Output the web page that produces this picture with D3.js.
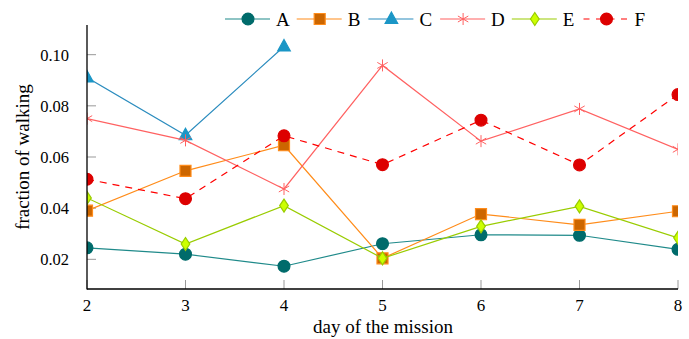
<!DOCTYPE html>
<html lang="en">
<head>
<meta charset="UTF-8">
<title>fraction of walking</title>
<script src="https://d3js.org/d3.v7.min.js"></script>
<style>
  body { margin: 0; background: #fff; }
  svg { display: block; }
</style>
</head>
<body>
<svg width="689" height="339"></svg>
<script>
// days on the x axis
const days = [2, 3, 4, 5, 6, 7, 8];
const xTicks = [2, 3, 4, 5, 6, 7, 8];
const yTicks = [0.02, 0.04, 0.06, 0.08, 0.10];

// values
const seriesA = [0.0245, 0.0220, 0.0173, 0.0261, 0.0296, 0.0294, 0.0239];
const seriesB = [0.0390, 0.0546, 0.0646, 0.0204, 0.0377, 0.0335, 0.0388];
const seriesC = [0.0911, 0.0685, 0.1032];
const seriesD = [0.0750, 0.0665, 0.0475, 0.0958, 0.0662, 0.0788, 0.0630];
const seriesE = [0.0440, 0.0260, 0.0410, 0.0204, 0.0329, 0.0407, 0.0284];
const seriesF = [0.0513, 0.0437, 0.0683, 0.0570, 0.0744, 0.0569, 0.0844];

const series = [
  { name: 'A', values: seriesA, line: '#1f8a8a', fill: '#006b6b', edge: '#006b6b', mark: 'circle', dash: null },
  { name: 'B', values: seriesB, line: '#ff8c1a', fill: '#cc6600', edge: '#ff8c1a', mark: 'square', dash: null },
  { name: 'C', values: seriesC, line: '#2b8cbe', fill: '#1b96c6', edge: '#1b96c6', mark: 'triangle', dash: null },
  { name: 'D', values: seriesD, line: '#ff6161', fill: 'none', edge: '#ff6161', mark: 'star', dash: null },
  { name: 'E', values: seriesE, line: '#99cc00', fill: '#ccff00', edge: '#99cc00', mark: 'diamond', dash: null },
  { name: 'F', values: seriesF, line: '#ff0000', fill: '#dd0000', edge: '#dd0000', mark: 'circle', dash: '7,6' }
];

const FONT = 'Liberation Serif';
const svg = d3.select('svg');
const pl = 87, pr = 678, pt = 25, pb = 289;

const x = d3.scaleLinear().domain([2, 8]).range([pl, pr]);
const y = d3.scaleLinear().domain([0.0084, 0.1116]).range([pb, pt]);

// clip to plot area
svg.append('clipPath').attr('id', 'plotclip')
  .append('rect').attr('x', pl).attr('y', pt)
  .attr('width', pr - pl).attr('height', pb - pt);

// tick marks (gray, inside)
svg.append('g').selectAll('line').data(xTicks).join('line')
  .attr('x1', d => x(d)).attr('x2', d => x(d))
  .attr('y1', pb).attr('y2', pb - 9)
  .attr('stroke', '#999').attr('stroke-width', 1);
svg.append('g').selectAll('line').data(yTicks).join('line')
  .attr('x1', pl).attr('x2', pl + 9)
  .attr('y1', d => y(d)).attr('y2', d => y(d))
  .attr('stroke', '#999').attr('stroke-width', 1);

// tick labels
svg.append('g').selectAll('text').data(xTicks).join('text')
  .style('font-family', FONT).attr('font-size', 17)
  .attr('x', d => x(d)).attr('y', 311)
  .attr('text-anchor', 'middle')
  .text(d => d);
svg.append('g').selectAll('text').data(yTicks).join('text')
  .style('font-family', FONT).attr('font-size', 16.5)
  .attr('x', 69).attr('y', d => y(d) + 6)
  .attr('text-anchor', 'end')
  .text(d => d3.format('.2f')(d));

// axis titles
svg.append('text').style('font-family', FONT).attr('font-size', 19)
  .attr('x', (pl + pr) / 2 + 0.5).attr('y', 333)
  .attr('text-anchor', 'middle').text('day of the mission');
svg.append('text').style('font-family', FONT).attr('font-size', 19)
  .attr('transform', 'translate(29,157) rotate(-90)')
  .attr('text-anchor', 'middle').text('fraction of walking');

function markerPath(kind) {
  if (kind === 'circle') return d3.symbol().type(d3.symbolCircle).size(110)();
  if (kind === 'square') return 'M-5.5,-5.5H5.5V5.5H-5.5Z';
  if (kind === 'triangle') return 'M0,-7L6.3,4.5H-6.3Z';
  if (kind === 'diamond') return 'M0,-6.5L4.3,0L0,6.5L-4.3,0Z';
  // asterisk-like star
  let p = '';
  for (let i = 0; i < 3; i++) {
    const a = Math.PI / 2 + i * Math.PI * 2 / 3;
    p += 'M0,0L' + (6 * Math.cos(a)).toFixed(2) + ',' + (-6 * Math.sin(a)).toFixed(2);
  }
  for (let i = 0; i < 3; i++) {
    const a = -Math.PI / 2 + i * Math.PI * 2 / 3;
    p += 'M0,0L' + (6 * Math.cos(a)).toFixed(2) + ',' + (-6 * Math.sin(a)).toFixed(2);
  }
  return p;
}

const lineGen = d3.line().x(d => x(d[0])).y(d => y(d[1]));
const plot = svg.append('g').attr('clip-path', 'url(#plotclip)');

series.forEach(s => {
  const pts = s.values.map((v, i) => [days[i], v]);
  plot.append('path').datum(pts)
    .attr('d', lineGen)
    .attr('fill', 'none')
    .attr('stroke', s.line)
    .attr('stroke-width', 1.2)
    .attr('stroke-dasharray', s.dash);
  plot.append('g').selectAll('path').data(pts).join('path')
    .attr('transform', d => `translate(${x(d[0])},${y(d[1])})`)
    .attr('d', markerPath(s.mark))
    .attr('fill', s.fill)
    .attr('stroke', s.edge)
    .attr('stroke-width', s.mark === 'star' ? 1 : 1.2);
});

// axis lines (left and bottom only)
svg.append('line').attr('x1', pl).attr('x2', pl).attr('y1', pt).attr('y2', pb + 0.5)
  .attr('stroke', '#000').attr('stroke-width', 1.3);
svg.append('line').attr('x1', pl).attr('x2', pr).attr('y1', pb).attr('y2', pb)
  .attr('stroke', '#000').attr('stroke-width', 1.3);

// legend
const legend = svg.append('g');
series.forEach((s, i) => {
  const x0 = 225 + i * 71.7, yy = 19;
  const g = legend.append('g');
  g.append('line').attr('x1', x0).attr('x2', x0 + 45).attr('y1', yy).attr('y2', yy)
    .attr('stroke', s.line).attr('stroke-width', 1.2)
    .attr('stroke-dasharray', s.dash ? '6,6.5' : null);
  g.append('path').attr('transform', `translate(${x0 + 23},${yy})`)
    .attr('d', markerPath(s.mark))
    .attr('fill', s.fill).attr('stroke', s.edge)
    .attr('stroke-width', s.mark === 'star' ? 1 : 1.2);
  g.append('text').style('font-family', FONT).attr('font-size', 19)
    .attr('x', x0 + 51).attr('y', yy + 6.5).text(s.name);
});
</script>
</body>
</html>
